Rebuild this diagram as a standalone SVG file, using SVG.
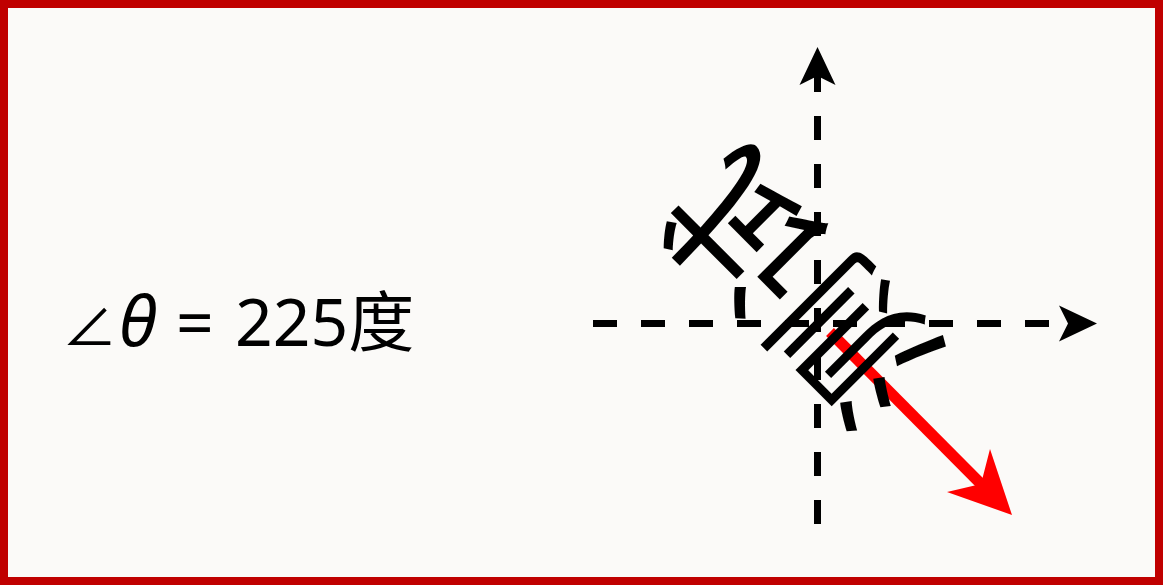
<svg xmlns="http://www.w3.org/2000/svg" width="1163" height="586" viewBox="0 0 1163 586">
<defs>
<style>
.axis{stroke:#000;stroke-width:7;stroke-dasharray:24 24;fill:none}
.lbl{font-family:"Noto Sans","Noto Sans CJK SC",sans-serif;fill:#000}
.rot{font-family:"Noto Sans CJK SC",sans-serif;fill:#000}
</style>
<marker id="ah" viewBox="0 0 40 40" markerWidth="40" markerHeight="40" refX="9" refY="20" orient="auto" markerUnits="userSpaceOnUse">
<path d="M0,2 L38,20 L0,38 L9,20 Z" fill="#000"/>
</marker>
</defs>
<rect x="4" y="4" width="1155" height="577" fill="#fbfaf8" stroke="#c00000" stroke-width="8"/>
<g id="connectors">
<line class="axis" x1="593" y1="323.5" x2="1068" y2="323.5" marker-end="url(#ah)"/>
<line class="axis" x1="817.5" y1="524" x2="817.5" y2="76" marker-end="url(#ah)"/>
<line x1="830" y1="332" x2="982" y2="485" stroke="#ff0000" stroke-width="11"/>
<path d="M1012,515 L947,492 L981,484 L990,449 Z" fill="#ff0000"/>
</g>
<g id="angle-label">
<text class="lbl" x="62" y="346" font-size="66"><tspan font-size="55">∠</tspan><tspan x="119" font-style="italic" font-size="70">θ</tspan> <tspan x="176">=</tspan> <tspan x="235">225度</tspan></text>
</g>
<g id="rotated-text">
<text class="rot" font-size="152" text-anchor="middle" dominant-baseline="central" transform="translate(795,295) rotate(225)">测试</text>
</g>
</svg>
